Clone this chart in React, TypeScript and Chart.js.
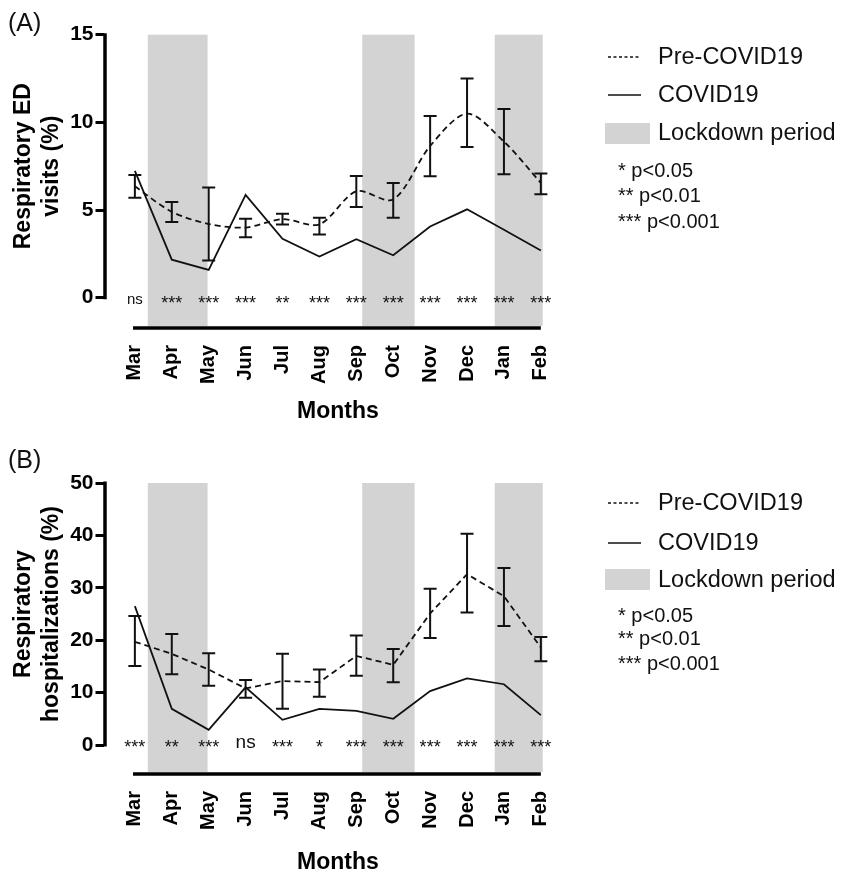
import React, { useEffect, useRef } from 'react';
import { Chart, registerables } from 'chart.js';

Chart.register(...registerables);

const FONT = '"Liberation Sans", Arial, Helvetica, sans-serif';
Chart.defaults.font.family = FONT;

// ---------- data ----------
const months = ['Mar', 'Apr', 'May', 'Jun', 'Jul', 'Aug', 'Sep', 'Oct', 'Nov', 'Dec', 'Jan', 'Feb'];

// Panel A: respiratory ED visits (%)
const preEdMean = [6.35, 4.9, 4.2, 4.0, 4.48, 4.18, 6.07, 5.6, 8.65, 10.5, 8.9, 6.55];
const preEdLow = [5.7, 4.32, 2.12, 3.45, 4.18, 3.6, 5.17, 4.56, 6.93, 8.59, 7.04, 5.9];
const preEdHigh = [7.0, 5.46, 6.28, 4.5, 4.79, 4.56, 6.94, 6.54, 10.36, 12.5, 10.76, 7.08];
const covidEd = [7.23, 2.17, 1.58, 5.86, 3.36, 2.35, 3.34, 2.42, 4.06, 5.04, 3.87, 2.69];
const sigEd = ['ns', '***', '***', '***', '**', '***', '***', '***', '***', '***', '***', '***'];
const yTicksEd = [0, 5, 10, 15];

// Panel B: respiratory hospitalizations (%)
const preHospMean = [19.7, 17.4, 14.4, 10.8, 12.2, 12.0, 17.0, 15.3, 25.1, 32.6, 28.4, 18.6];
const preHospLow = [15.1, 13.5, 11.3, 9.0, 6.9, 9.2, 13.2, 12.0, 20.4, 25.3, 22.7, 16.0];
const preHospHigh = [24.6, 21.2, 17.5, 12.4, 17.4, 14.4, 20.9, 18.3, 29.8, 40.3, 33.8, 20.6];
const covidHosp = [26.5, 6.9, 2.9, 11.0, 4.8, 6.9, 6.5, 5.0, 10.3, 12.7, 11.6, 5.7];
const sigHosp = ['***', '**', '***', 'ns', '***', '*', '***', '***', '***', '***', '***', '***'];
const yTicksHosp = [0, 10, 20, 30, 40, 50];

// Lockdown periods (in month-index units)
const lockdownStart = [0.35, 6.16, 9.75];
const lockdownEnd = [1.97, 7.58, 11.05];

const legendItems = ['Pre-COVID19', 'COVID19', 'Lockdown period'];
const pLegend = ['* p<0.05', '** p<0.01', '*** p<0.001'];

// ---------- layout constants ----------
const W = 841;
const AXIS_X = 103.5;
const AREA_RIGHT = 542.7;
const X_MIN = -0.85;
const X_MAX = 11.05;

type PanelProps = {
  top: number;
  height: number;
  areaTop: number;
  areaBottom: number;
  yMin: number;
  yMax: number;
  yTicks: number[];
  mean: number[];
  low: number[];
  high: number[];
  covid: number[];
  sig: string[];
  titleLines: string[];
  monthsY: number;
  tension: number;
  starDy: number;
  nsDy: number;
  nsSize: number;
  label: string;
  labelY: number;
  legendY: number[];
  pY: number[];
  boxTop: number;
  boxBottom: number;
};

function Panel(p: PanelProps) {
  const ref = useRef<HTMLCanvasElement>(null);
  useEffect(() => {
    const canvas = ref.current!;
    const plugin = {
      id: 'panelDecor',
      beforeDatasetsDraw(chart: any) {
        const { ctx, chartArea, scales } = chart;
        const x = scales.x;
        ctx.save();
        ctx.fillStyle = '#d3d3d3';
        for (let i = 0; i < lockdownStart.length; i++) {
          const x0 = x.getPixelForValue(lockdownStart[i]);
          const x1 = x.getPixelForValue(lockdownEnd[i]);
          ctx.fillRect(x0, chartArea.top, x1 - x0, chartArea.bottom - chartArea.top - 2);
        }
        ctx.restore();
      },
      afterDatasetsDraw(chart: any) {
        const { ctx, chartArea, scales } = chart;
        const x = scales.x;
        const y = scales.y;
        ctx.save();
        ctx.strokeStyle = '#111';
        // error bars
        ctx.lineWidth = 2;
        for (let i = 0; i < p.mean.length; i++) {
          const px = x.getPixelForValue(i);
          const yl = y.getPixelForValue(p.low[i]);
          const yh = y.getPixelForValue(p.high[i]);
          ctx.beginPath();
          ctx.moveTo(px, yl);
          ctx.lineTo(px, yh);
          ctx.moveTo(px - 6.5, yl);
          ctx.lineTo(px + 6.5, yl);
          ctx.moveTo(px - 6.5, yh);
          ctx.lineTo(px + 6.5, yh);
          ctx.stroke();
        }
        // y axis line (0 .. max)
        ctx.strokeStyle = '#000';
        ctx.lineWidth = 3.5;
        ctx.beginPath();
        ctx.moveTo(chartArea.left + 1.5, y.getPixelForValue(p.yMax) - 1.5);
        ctx.lineTo(chartArea.left + 1.5, y.getPixelForValue(0) + 1.5);
        ctx.stroke();
        // bottom line
        ctx.lineWidth = 3.5;
        ctx.beginPath();
        ctx.moveTo(x.getPixelForValue(-0.05), chartArea.bottom);
        ctx.lineTo(x.getPixelForValue(11), chartArea.bottom);
        ctx.stroke();
        // significance labels
        ctx.fillStyle = '#111';
        ctx.textAlign = 'center';
        ctx.textBaseline = 'alphabetic';
        const y0 = y.getPixelForValue(0);
        for (let i = 0; i < p.sig.length; i++) {
          const px = x.getPixelForValue(i);
          if (p.sig[i] === 'ns') {
            ctx.font = `${p.nsSize}px ${FONT}`;
            ctx.fillText('ns', px, y0 + p.nsDy);
          } else {
            ctx.font = `18px ${FONT}`;
            ctx.fillText(p.sig[i], px, y0 + p.starDy);
          }
        }
        // y title
        ctx.fillStyle = '#000';
        ctx.font = `bold 23px ${FONT}`;
        ctx.textBaseline = 'middle';
        const yc = (y.getPixelForValue(0) + y.getPixelForValue(p.yMax)) / 2;
        const xs = [24, 52];
        p.titleLines.forEach((t, k) => {
          ctx.save();
          ctx.translate(xs[k], yc);
          ctx.rotate(-Math.PI / 2);
          ctx.fillText(t, 0, 0);
          ctx.restore();
        });
        // x title
        ctx.font = `bold 23px ${FONT}`;
        ctx.fillText('Months', (x.getPixelForValue(0) + x.getPixelForValue(11)) / 2, p.monthsY);
        ctx.restore();
      },
    };

    const chart = new Chart(canvas, {
      type: 'line',
      data: {
        datasets: [
          {
            label: 'Pre-COVID19',
            data: p.mean.map((v, i) => ({ x: i, y: v })),
            borderColor: '#111',
            borderWidth: 1.8,
            borderDash: [6, 4],
            pointRadius: 0,
            tension: p.tension,
            fill: false,
          },
          {
            label: 'COVID19',
            data: p.covid.map((v, i) => ({ x: i, y: v })),
            borderColor: '#111',
            borderWidth: 1.8,
            pointRadius: 0,
            tension: 0,
            fill: false,
          },
        ],
      },
      options: {
        responsive: false,
        animation: false,
        devicePixelRatio: 1,
        layout: { padding: { top: p.areaTop, right: W - AREA_RIGHT, left: 0, bottom: 0 } },
        plugins: { legend: { display: false }, tooltip: { enabled: false } },
        scales: {
          x: {
            type: 'linear',
            min: X_MIN,
            max: X_MAX,
            afterBuildTicks: (s: any) => {
              s.ticks = months.map((_, i) => ({ value: i }));
            },
            afterFit: (s: any) => {
              s.height = p.height - p.areaBottom;
            },
            grid: { display: false, drawTicks: false },
            border: { display: false },
            ticks: {
              autoSkip: false,
              minRotation: 90,
              maxRotation: 90,
              padding: 17,
              color: '#000',
              font: { family: FONT, size: 20, weight: 'bold' },
              callback: (v: any) => months[v] ?? '',
            },
          },
          y: {
            type: 'linear',
            min: p.yMin,
            max: p.yMax,
            afterBuildTicks: (s: any) => {
              s.ticks = p.yTicks.map((v) => ({ value: v }));
            },
            afterFit: (s: any) => {
              s.width = AXIS_X;
            },
            grid: { drawOnChartArea: false, drawTicks: true, tickLength: 8, tickWidth: 3, tickColor: '#000' },
            border: { display: false },
            ticks: {
              padding: 2,
              color: '#000',
              font: { family: FONT, size: 21, weight: 'bold' },
            },
          },
        },
      },
      plugins: [plugin],
    } as any);
    return () => chart.destroy();
  }, []);

  const legendText = (text: string, cy: number, size: number, left: number) => (
    <div
      key={text}
      style={{
        position: 'absolute',
        left,
        top: cy,
        transform: 'translateY(-50%)',
        fontSize: size,
        lineHeight: 1,
        whiteSpace: 'nowrap',
        color: '#111',
        fontFamily: FONT,
      }}
    >
      {text}
    </div>
  );

  return (
    <div style={{ position: 'absolute', left: 0, top: p.top, width: W, height: p.height }}>
      <canvas ref={ref} width={W} height={p.height} style={{ display: 'block', width: W, height: p.height }} />
      {legendText(p.label, p.labelY, 25, 8)}
      <svg style={{ position: 'absolute', left: 0, top: 0 }} width={W} height={p.height}>
        <line x1={608} x2={641} y1={p.legendY[0]} y2={p.legendY[0]} stroke="#111" strokeWidth={1.3} strokeDasharray="3 2.5" />
        <line x1={608} x2={641} y1={p.legendY[1]} y2={p.legendY[1]} stroke="#111" strokeWidth={1.5} />
        <rect x={605} y={p.boxTop} width={45} height={p.boxBottom - p.boxTop} fill="#d3d3d3" />
      </svg>
      {legendItems.map((t, k) => legendText(t, p.legendY[k], 23.5, 658))}
      {pLegend.map((t, k) => legendText(t, p.pY[k], 20, 618))}
    </div>
  );
}

export default function App() {
  return (
    <div style={{ position: 'absolute', left: 0, top: 0, width: W, height: 875, background: '#fff' }}>
      <Panel
        top={0}
        height={440}
        areaTop={34.7}
        areaBottom={328}
        yMin={-1.73}
        yMax={15}
        yTicks={yTicksEd}
        mean={preEdMean}
        low={preEdLow}
        high={preEdHigh}
        covid={covidEd}
        sig={sigEd}
        titleLines={['Respiratory ED', 'visits (%)']}
        monthsY={412}
        tension={0.3}
        starDy={11}
        nsDy={6}
        nsSize={15}
        label="(A)"
        labelY={22}
        legendY={[57, 95, 133]}
        pY={[170, 195, 221]}
        boxTop={123}
        boxBottom={144}
      />
      <Panel
        top={440}
        height={435}
        areaTop={43}
        areaBottom={334}
        yMin={-5.53}
        yMax={50}
        yTicks={yTicksHosp}
        mean={preHospMean}
        low={preHospLow}
        high={preHospHigh}
        covid={covidHosp}
        sig={sigHosp}
        titleLines={['Respiratory', 'hospitalizations (%)']}
        monthsY={423}
        tension={0}
        starDy={8}
        nsDy={3}
        nsSize={19}
        label="(B)"
        labelY={19}
        legendY={[63, 103, 140]}
        pY={[175, 198, 223]}
        boxTop={129}
        boxBottom={150}
      />
    </div>
  );
}
